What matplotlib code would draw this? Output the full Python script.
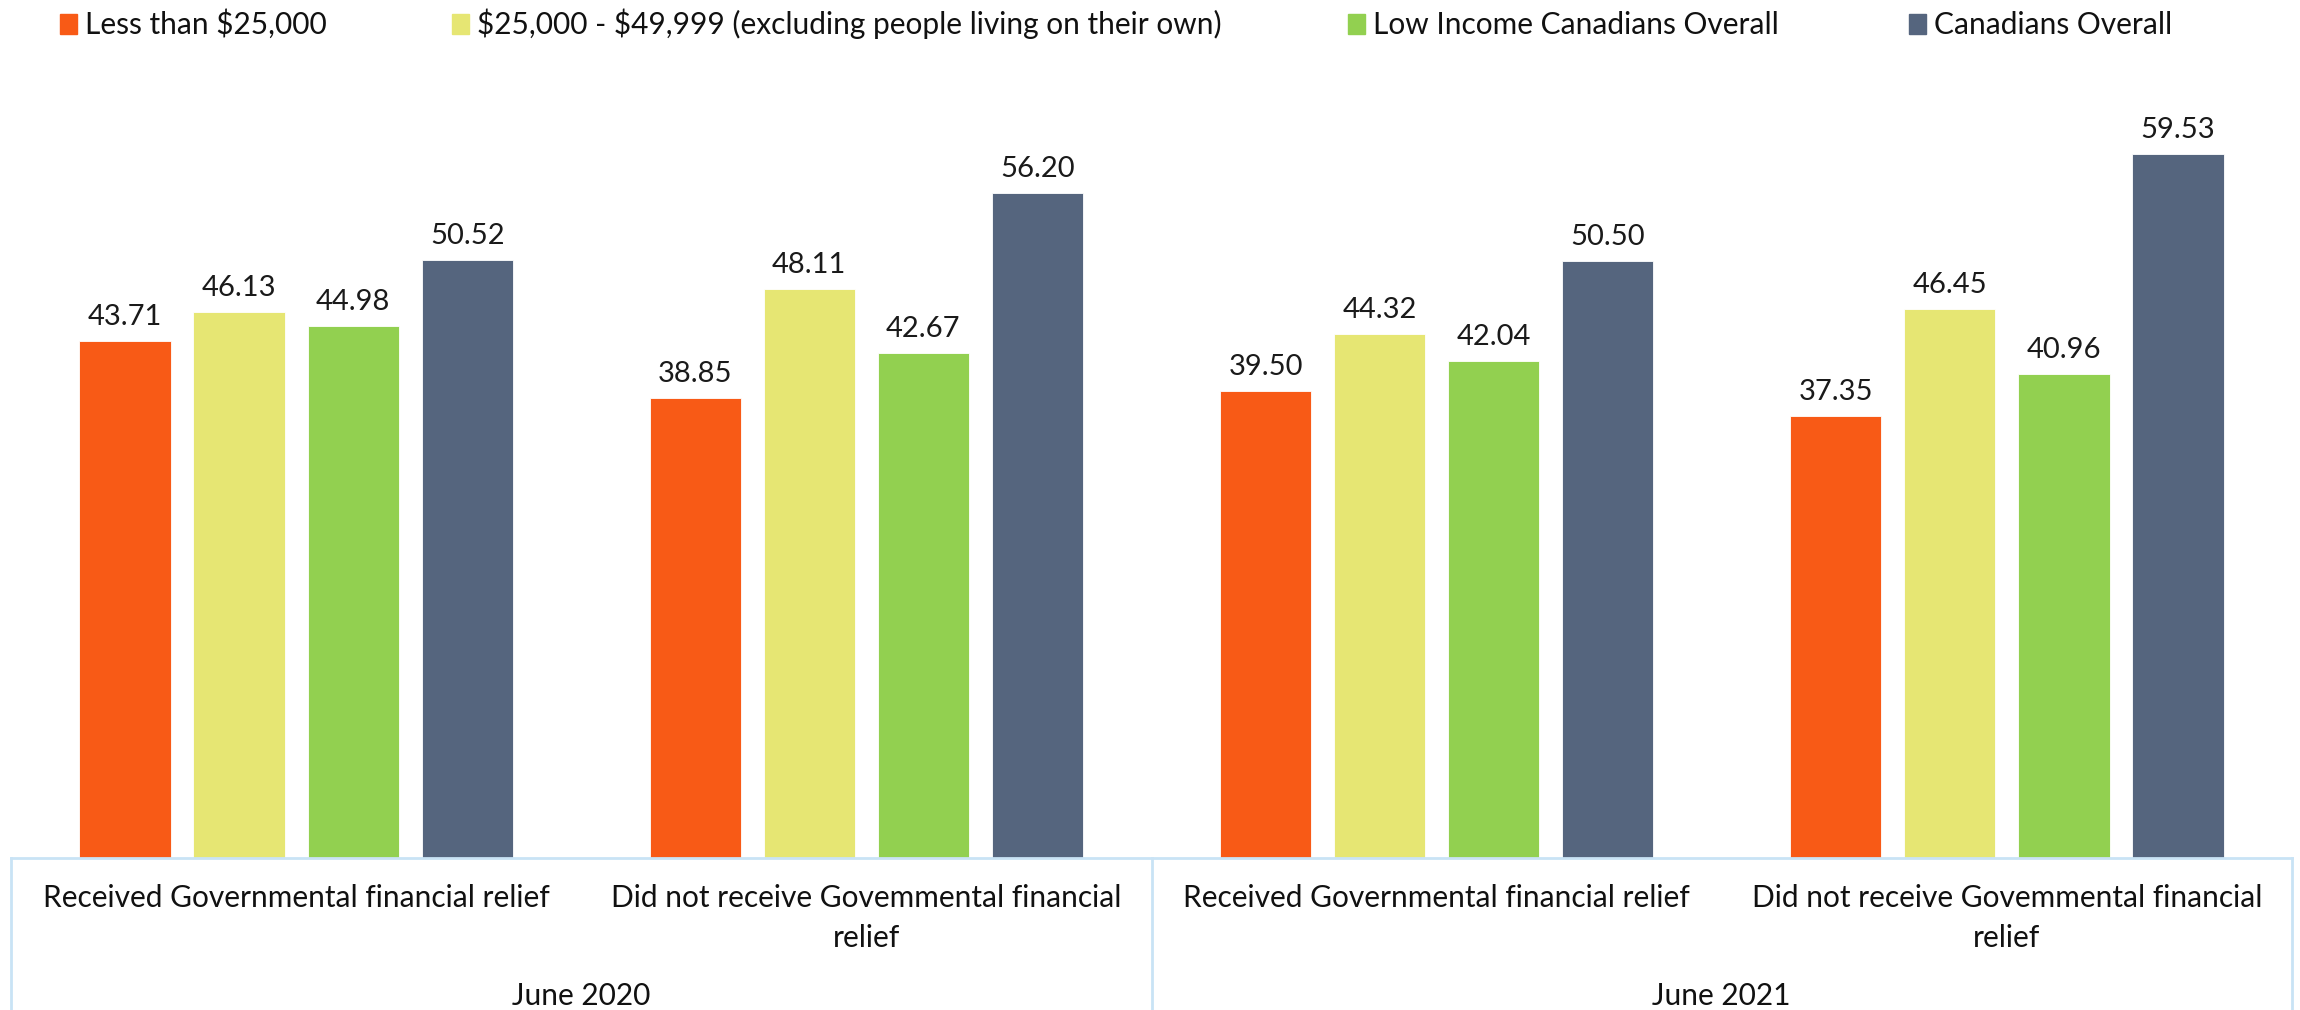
import matplotlib
matplotlib.use('Agg')
import numpy as np
import matplotlib.pyplot as plt
from matplotlib.patches import Rectangle

series_names = [r'Less than \$25,000',
                r'\$25,000 - \$49,999 (excluding people living on their own)',
                'Low Income Canadians Overall',
                'Canadians Overall']
categories = ['Received Governmental financial relief',
              'Did not receive Govemmental financial\nrelief',
              'Received Governmental financial relief',
              'Did not receive Govemmental financial\nrelief']
groups = ['June 2020', 'June 2021']

less_25k = [43.71, 38.85, 39.50, 37.35]
from_25k_to_50k = [46.13, 48.11, 44.32, 46.45]
low_income = [44.98, 42.67, 42.04, 40.96]
canadians = [50.52, 56.20, 50.50, 59.53]

colors = ['#F85A16', '#E6E673', '#92D050', '#55657E']
line_color = '#C9E3F5'
text_color = '#111111'

plt.rcParams['font.family'] = ['Lato', 'DejaVu Sans']

W, H = 2300, 1010
ax_left, ax_right, ax_bottom, ax_top = 11, 2292, 858, 30
fig = plt.figure(figsize=(W / 100, H / 100), dpi=100)
ax = fig.add_axes([ax_left / W, 1 - ax_bottom / H,
                   (ax_right - ax_left) / W, (ax_bottom - ax_top) / H])


def below(px):
    # pixel row of the figure -> axes fraction
    return (ax_bottom - px) / (ax_bottom - ax_top)


values = [less_25k, from_25k_to_50k, low_income, canadians]
x = np.arange(len(categories))
pitch = 0.2
width = 0.16
for i, (vals, c) in enumerate(zip(values, colors)):
    xs = x + (i - 1.5) * pitch
    bars = ax.bar(xs, vals, width=width, color=c, edgecolor='white',
                  linewidth=0.6)
    for b, v in zip(bars, vals):
        ax.annotate(f'{v:.2f}', (b.get_x() + b.get_width() / 2, v),
                    xytext=(0, 16), textcoords='offset pixels',
                    ha='center', va='baseline', fontsize=21,
                    color='#1a1a1a')

ax.set_xlim(-0.5, len(categories) - 0.5)
ax.set_ylim(0, 70)
ax.set_yticks([])
ax.set_xticks([])
for s in ['top', 'left', 'right']:
    ax.spines[s].set_visible(False)
ax.spines['bottom'].set_color(line_color)
ax.spines['bottom'].set_linewidth(2)

trans = ax.get_xaxis_transform()
for xi, lab in zip(x, categories):
    for k, line in enumerate(lab.split('\n')):
        ax.text(xi, below(907 + 40 * k), line, transform=trans,
                ha='center', va='baseline', fontsize=21.5, color=text_color)
for gi, g in enumerate(groups):
    ax.text(2 * gi + 0.5, below(1005), g, transform=trans, ha='center',
            va='baseline', fontsize=21.5, color=text_color)
for xb in [-0.5, 1.5, 3.5]:
    ax.plot([xb, xb], [0, below(1012)], transform=trans, color=line_color,
            lw=2, clip_on=False)

# legend entries placed by hand
leg_x = [60, 452, 1348, 1909]
for lx, name, c in zip(leg_x, series_names, colors):
    fig.patches.append(Rectangle((lx / W, 1 - 34 / H), 17 / W, 20 / H,
                                 transform=fig.transFigure, color=c))
    fig.text((lx + 25) / W, 1 - 34 / H, name, ha='left', va='baseline',
             fontsize=21.5, color=text_color)

fig.savefig('out.png', dpi=100)
